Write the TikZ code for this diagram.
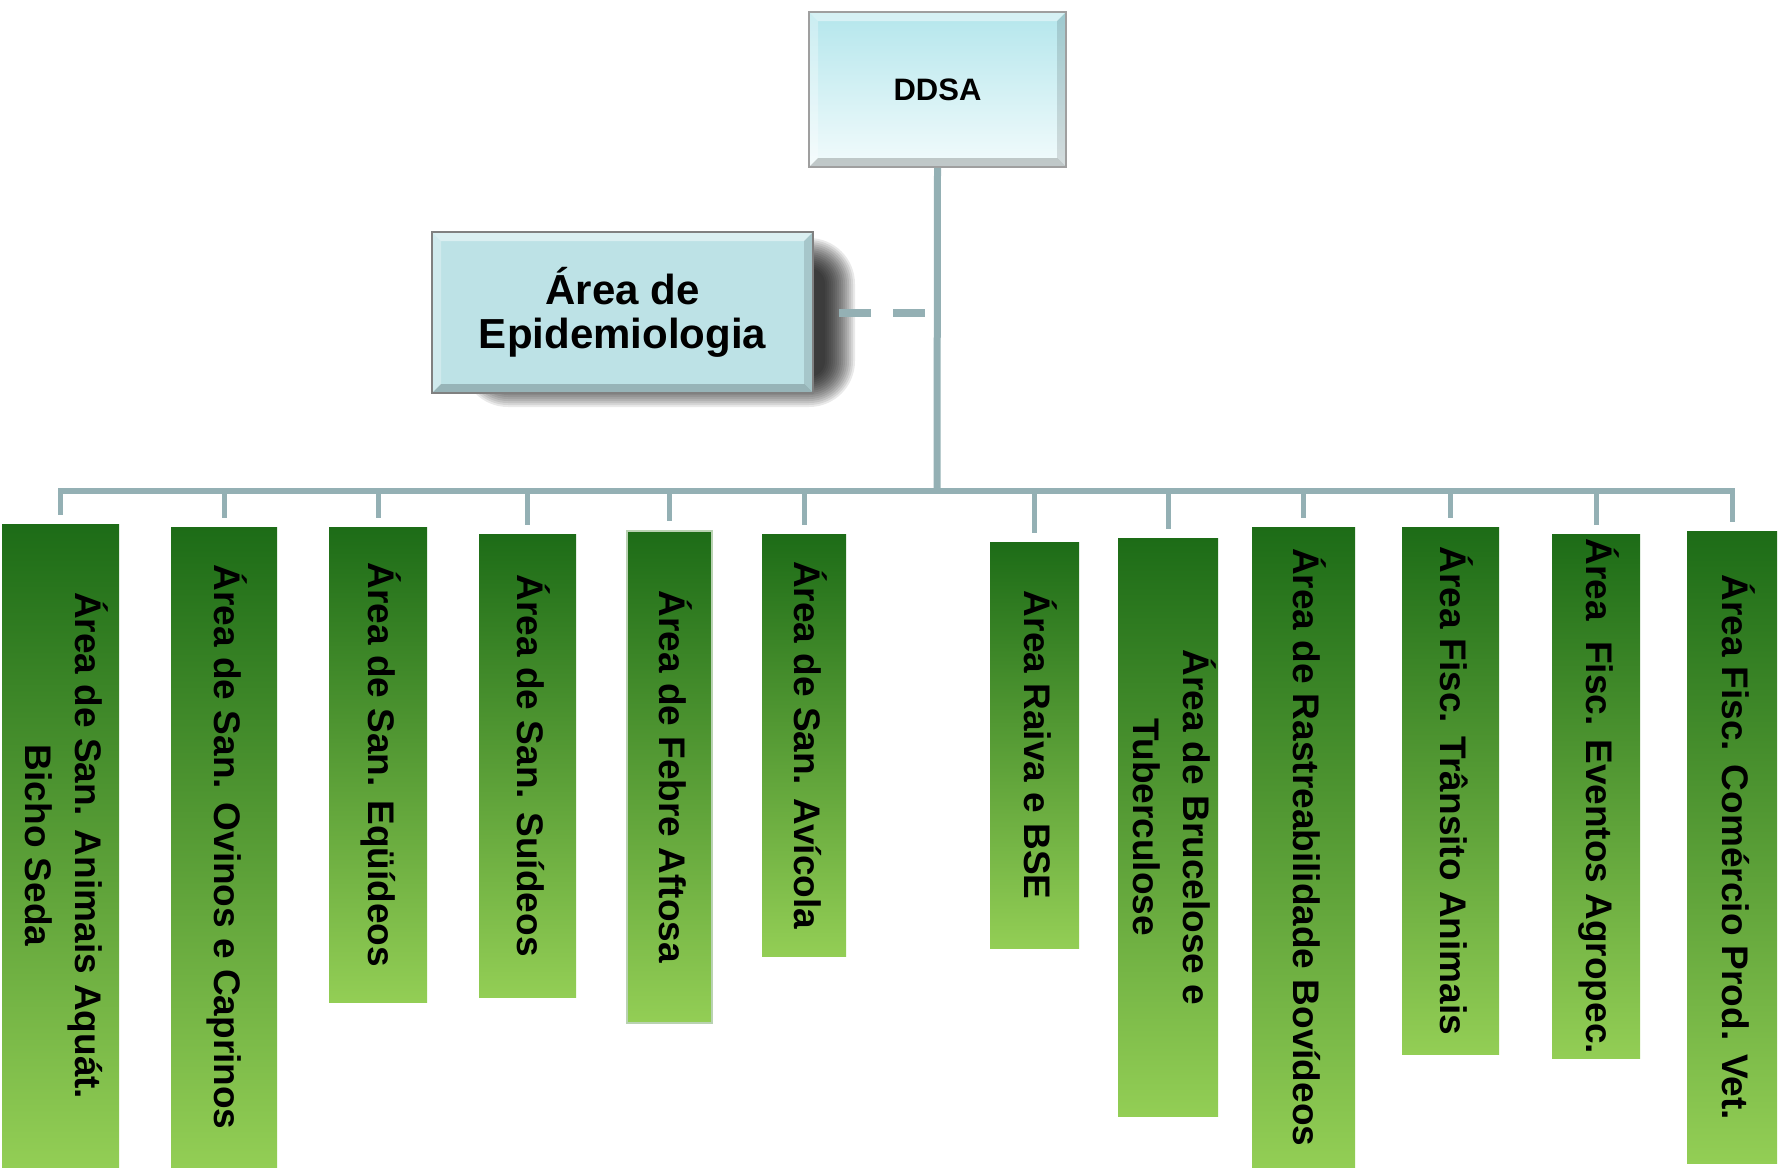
\documentclass[tikz,border=0pt]{standalone}
\usepackage{fontspec}
\setmainfont{Liberation Sans}
\usepackage{tikz}
\usetikzlibrary{ calc, positioning }
\definecolor{linkgrey}{HTML}{94B0B4}
\definecolor{topteal}{HTML}{B4E6EC}
\definecolor{lowteal}{HTML}{F2FBFC}
\definecolor{epiteal}{HTML}{BDE2E6}
\definecolor{darkleaf}{HTML}{1D6C17}
\definecolor{midleaf}{HTML}{9DB76C}
\definecolor{lowleaf}{HTML}{93CE55}
\definecolor{leafedge}{HTML}{B9D2B2}
\tikzset{
x=1pt, y=-1pt, % one unit is one pixel of the drawing, y runs down
link/.style={draw=linkgrey, line width=5pt}, % the grey connectors
bevel/.style={path picture={
  \fill[white, opacity=.45] (path picture bounding box.north west) -- (path picture bounding box.north east)
    -- ([xshift=-#1,yshift=-#1]path picture bounding box.north east) -- ([xshift=#1,yshift=-#1]path picture bounding box.north west) -- cycle;
  \fill[white, opacity=.3] (path picture bounding box.north west) -- ([xshift=#1,yshift=-#1]path picture bounding box.north west)
    -- ([xshift=#1,yshift=#1]path picture bounding box.south west) -- (path picture bounding box.south west) -- cycle;
  \fill[black, opacity=.12] (path picture bounding box.north east) -- ([xshift=-#1,yshift=-#1]path picture bounding box.north east)
    -- ([xshift=-#1,yshift=#1]path picture bounding box.south east) -- (path picture bounding box.south east) -- cycle;
  \fill[black, opacity=.2] (path picture bounding box.south west) -- ([xshift=#1,yshift=#1]path picture bounding box.south west)
    -- ([xshift=-#1,yshift=#1]path picture bounding box.south east) -- (path picture bounding box.south east) -- cycle;
}},
headbox/.style={draw=gray!75, line width=1.5pt, top color=topteal, bottom color=lowteal,
  font=\bfseries\fontsize{31}{36}\selectfont, bevel=9pt},
epibox/.style={draw=gray, line width=2pt, fill=epiteal, align=center,
  font=\bfseries\fontsize{42}{44}\selectfont, bevel=9pt},
areabox/.style={anchor=north west, inner sep=0pt, top color=darkleaf, middle color=midleaf,
  bottom color=lowleaf, font=\bfseries\fontsize{37}{50}\selectfont},
}
\newcommand{\vtext}[1]{\rotatebox{-90}{\begin{tabular}{@{}c@{}}#1\end{tabular}}}

\begin{document}
\begin{tikzpicture}
  \useasboundingbox (0,0) rectangle (1785,1168);

  % Top of the chart ---------------------------------
  \node[headbox, minimum width=257pt, minimum height=155pt] (ddsa) at (937.5,89.5) {DDSA};

  % soft shadow behind the staff box
  \foreach \i in {0,...,15}{
    \pgfmathsetmacro{\r}{46-2*\i}
    \fill[black, opacity=.085, rounded corners=\r pt] (462+2*\i,238+2*\i) rectangle (855-2*\i,407-2*\i);
  }
  \node[epibox, minimum width=381pt, minimum height=161pt] (epi) at (622.5,312.5) {Área de\\Epidemiologia};

  % Areas --------------------------------------------
  \node[areabox, minimum width=117pt, minimum height=643pt] (a1) at (2,524) {\vtext{Área de San. Animais Aquát.\\Bicho Seda}};
  \node[areabox, minimum width=106pt, minimum height=640pt] (a2) at (171,527) {\vtext{Área de San. Ovinos e Caprinos}};
  \node[areabox, minimum width=98pt, minimum height=475pt] (a3) at (329,527) {\vtext{Área de San. Eqüídeos}};
  \node[areabox, minimum width=97pt, minimum height=463pt] (a4) at (479,534) {\vtext{Área de San. Suídeos}};
  \node[areabox, draw=leafedge, line width=1.5pt, minimum width=85pt, minimum height=492pt] (a5) at (626,530) {\vtext{Área de Febre Aftosa}};
  \node[areabox, minimum width=84pt, minimum height=422pt] (a6) at (762,534) {\vtext{Área de San. Avícola}};
  \node[areabox, minimum width=89pt, minimum height=406pt] (a7) at (990,542) {\vtext{Área Raiva e BSE}};
  \node[areabox, minimum width=90pt, minimum height=578pt] (a8) at (1118,538) {\vtext{Área de Brucelose e\\Tuberculose}};
  \node[areabox, minimum width=103pt, minimum height=640pt] (a9) at (1252,527) {\vtext{Área de Rastreabilidade Bovídeos}};
  \node[areabox, minimum width=97pt, minimum height=527pt] (a10) at (1402,527) {\vtext{Área Fisc. Trânsito Animais}};
  \node[areabox, minimum width=88pt, minimum height=524pt] (a11) at (1552,534) {\vtext{Área\ \ Fisc. Eventos Agropec.}};
  \node[areabox, minimum width=90pt, minimum height=632pt] (a12) at (1687,531) {\vtext{Área Fisc. Comércio Prod. Vet.}};

  % Connectors ---------------------------------------
  \coordinate (bus) at (937,491);
  \draw[link, line width=7pt] (ddsa.south) -- (bus);
  \draw[link, line width=6pt, line cap=rect] (a1.north |- bus) -- (a12.north |- bus);
  \draw[link, line width=8pt, dash pattern=on 32pt off 22pt, shorten <=25pt] (epi.east) -- (epi.east -| bus);

  \path[link, shorten >=9pt]
  (a1.north |- bus) edge (a1.north)
  (a2.north |- bus) edge (a2.north)
  (a3.north |- bus) edge (a3.north)
  (a4.north |- bus) edge (a4.north)
  (a5.north |- bus) edge (a5.north)
  (a6.north |- bus) edge (a6.north)
  (a7.north |- bus) edge (a7.north)
  (a8.north |- bus) edge (a8.north)
  (a9.north |- bus) edge (a9.north)
  (a10.north |- bus) edge (a10.north)
  (a11.north |- bus) edge (a11.north)
  (a12.north |- bus) edge (a12.north) ;
\end{tikzpicture}
\end{document}
